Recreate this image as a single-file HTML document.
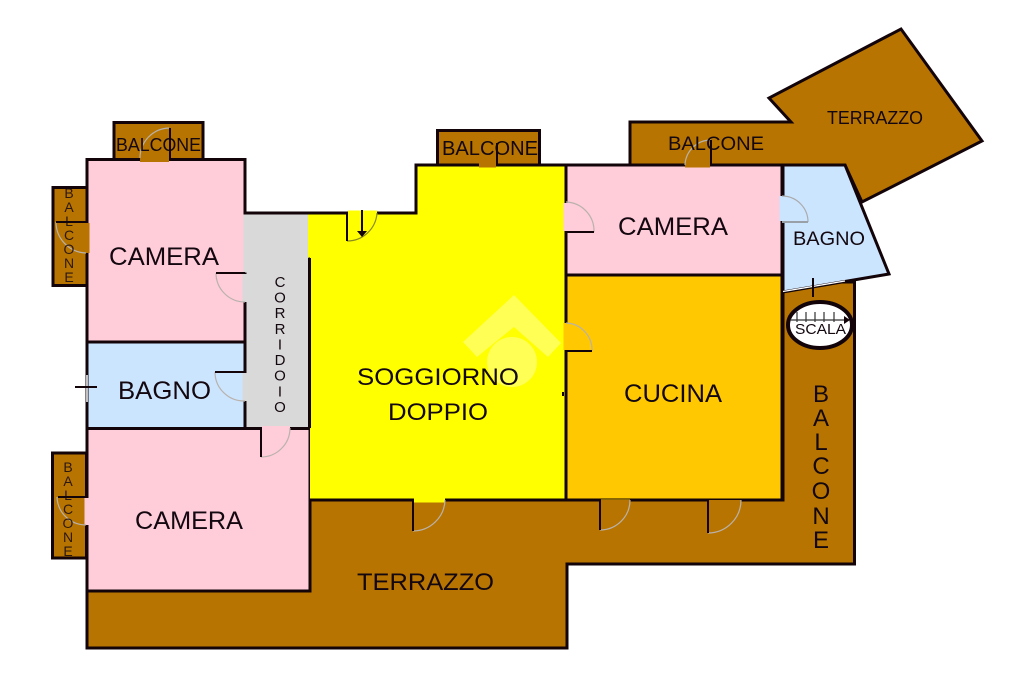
<!DOCTYPE html>
<html><head><meta charset="utf-8"><style>
html,body{margin:0;padding:0;background:#fff;width:1024px;height:683px;overflow:hidden}
svg{display:block}
text{font-family:"Liberation Sans",sans-serif;fill:#140810}
.w{stroke:#120409;stroke-width:3;stroke-linejoin:miter}
.l{stroke:#120409;stroke-width:2;fill:none}
.a{fill:none;stroke:#b9b2ac;stroke-width:1.2}
.g{stroke-width:5;fill:none}
</style></head><body>
<svg width="1024" height="683" viewBox="0 0 1024 683" xmlns="http://www.w3.org/2000/svg">
<!-- terraces and balconies -->
<g fill="#b87400" class="w">
<rect x="114" y="122.500" width="89" height="37"/>
<rect x="53" y="187.500" width="34" height="98"/>
<rect x="52.500" y="453" width="34" height="105"/>
<rect x="437.500" y="130.500" width="102" height="35"/>
<polygon points="630,122 791,122 769,98 901,29 982,141 862,202 845,165 630,165"/>
<polygon points="783,282 854.500,282 854.500,564 567,564 567,648 87,648 87,500 783,500"/>
</g>
<!-- rooms -->
<polygon points="87,159.500 245,159.500 245,342 87,342" fill="#ffccd9" class="w"/>
<polygon points="87,342 245,342 245,428.500 87,428.500" fill="#cce5ff" class="w"/>
<polygon points="87,428.500 310,428.500 310,591 87,591" fill="#ffccd9" class="w"/>
<polygon points="245,213 310,213 310,428.500 245,428.500" fill="#d9d9d9" class="w"/>
<polygon points="310,213 416,213 416,165 566,165 566,500 310,500" fill="#ffff00"/>
<path d="M310,213H416V165H566V500H310" class="w" fill="none"/>
<path d="M309.500,258V428" class="w" fill="none"/>
<rect x="566" y="165" width="216" height="110" fill="#ffccd9" class="w"/>
<rect x="566" y="275" width="216" height="225" fill="#ffc800" class="w"/>
<polygon points="783,165 845,165 889,274 783,292" fill="#cce5ff" class="w"/>
<rect x="308" y="214.500" width="3" height="43" fill="#ffff00"/>
<rect x="243.500" y="214.500" width="3.500" height="58" fill="#d9d9d9"/>
<!-- watermark -->
<g fill="#ffff55">
<polygon points="514,295 561,343 548,357 514,327 477,357 463,342"/>
<circle cx="512" cy="362" r="25"/>
</g>
<!-- door gaps -->
<path d="M140,159.500H169" stroke="#b87400" class="g"/>
<path d="M87,223V253" stroke="#b87400" class="g"/>
<path d="M245,274V302" stroke="#d9d9d9" class="g"/>
<path d="M245,373V401" stroke="#d9d9d9" class="g"/>
<path d="M262,428.500H290" stroke="#ffccd9" class="g"/>
<path d="M87,498V525" stroke="#ffccd9" class="g"/>
<path d="M348,213H377" stroke="#ffff00" class="g"/>
<path d="M479,165H496" stroke="#b87400" class="g"/>
<path d="M566,203V231" stroke="#ffccd9" class="g"/>
<path d="M566,323V350" stroke="#ffc800" class="g"/>
<path d="M685,165H710" stroke="#b87400" class="g"/>
<path d="M782,196V221" stroke="#cce5ff" class="g"/>
<path d="M414,500H445" stroke="#ffff00" class="g"/>
<path d="M601,500H630" stroke="#ffc800" class="g" style="stroke-width:1"/>
<path d="M601,501.500H630" stroke="#b87400" class="g" style="stroke-width:3"/>
<path d="M709,501.500H741" stroke="#b87400" class="g" style="stroke-width:3"/>
<path d="M87,375V402" stroke="#fff" stroke-width="1.500"/>
<path d="M783,291.500L845,281" stroke="#fff" stroke-width="1.200"/>
<!-- door arcs -->
<path class="a" d="M140,158A30,30 0 0 1 169,128"/>
<path class="a" d="M56,222A31,31 0 0 0 86,253"/>
<path class="a" d="M216,273A29,29 0 0 0 245,302"/>
<path class="a" d="M215,372A29,29 0 0 0 245,401"/>
<path class="a" d="M261,457A29,29 0 0 0 290,428"/>
<path class="a" d="M57,497A29,29 0 0 0 86,525"/>
<path class="a" style="stroke:#8a8a20" d="M347,241A30,30 0 0 0 377,213"/>
<path class="a" d="M566,202A29,29 0 0 1 594,232"/>
<path class="a" d="M566,323A27,27 0 0 1 592,351"/>
<path class="a" d="M685,165A26,26 0 0 1 711,140"/>
<path class="a" style="stroke:#aaa" d="M782,196A26,26 0 0 1 808,222"/>
<path class="a" d="M413,531A32,32 0 0 0 445,500"/>
<path class="a" d="M600,530A30,30 0 0 0 630,500"/>
<path class="a" d="M708,533A33,33 0 0 0 741,500"/>
<!-- door leaves -->
<path class="l" d="M170,128V160"/>
<path class="l" d="M56,222H87"/>
<path class="l" d="M216,273H245"/>
<path class="l" d="M215,372H245"/>
<path class="l" d="M261,428V457"/>
<path class="l" d="M58,497H87"/>
<path class="l" d="M347,213V241"/>
<path class="l" d="M497,143V165"/>
<path class="l" d="M566,232H594"/>
<path class="l" d="M566,351H592"/>
<path class="l" d="M711,140V165"/>
<path stroke="#99a0a8" stroke-width="2" d="M782,222H808"/>
<path class="l" d="M413,500V531"/>
<path class="l" d="M600,500V530"/>
<path class="l" d="M708,500V533"/>
<path class="l" d="M75,387H97"/>
<path class="l" d="M813,278V297"/>
<path class="l" d="M563,392V396"/>
<!-- arrow -->
<path class="l" d="M362,210V232"/>
<polygon points="357,231 367,231 362,237" fill="#120409"/>
<!-- stairs -->
<ellipse cx="820" cy="325" rx="32" ry="23" fill="#fff" stroke="#120409" stroke-width="4"/>
<path d="M790,320H847M797,312V322M806,312V322M815,312V322M824,312V322M834,312V322" stroke="#333" stroke-width="1.200" fill="none"/>
<polygon points="844,316 850,320 844,324" fill="#120409"/>
<!-- labels -->
<text x="109" y="265" font-size="25" textLength="110" lengthAdjust="spacingAndGlyphs">CAMERA</text>
<text x="118" y="399" font-size="25" textLength="93" lengthAdjust="spacingAndGlyphs">BAGNO</text>
<text x="135" y="529" font-size="25" textLength="108" lengthAdjust="spacingAndGlyphs">CAMERA</text>
<text x="357" y="385" font-size="24" textLength="162" lengthAdjust="spacingAndGlyphs">SOGGIORNO</text>
<text x="388" y="420" font-size="24" textLength="100" lengthAdjust="spacingAndGlyphs">DOPPIO</text>
<text x="624" y="402" font-size="25" textLength="98" lengthAdjust="spacingAndGlyphs">CUCINA</text>
<text x="618" y="235" font-size="25" textLength="110" lengthAdjust="spacingAndGlyphs">CAMERA</text>
<text x="793" y="245" font-size="19" textLength="72" lengthAdjust="spacingAndGlyphs">BAGNO</text>
<text x="827" y="124" font-size="18" textLength="96" lengthAdjust="spacingAndGlyphs">TERRAZZO</text>
<text x="668" y="150" font-size="19" textLength="96" lengthAdjust="spacingAndGlyphs">BALCONE</text>
<text x="116" y="151" font-size="18" textLength="85" lengthAdjust="spacingAndGlyphs">BALCONE</text>
<text x="442" y="155" font-size="20" textLength="96" lengthAdjust="spacingAndGlyphs">BALCONE</text>
<text x="357" y="590" font-size="24" textLength="137" lengthAdjust="spacingAndGlyphs">TERRAZZO</text>
<text x="795" y="334" font-size="15" textLength="51" lengthAdjust="spacingAndGlyphs">SCALA</text>
<g font-size="14" text-anchor="middle" fill-opacity=".85">
<text x="69" y="198">B</text><text x="69" y="212">A</text><text x="69" y="226">L</text><text x="69" y="240">C</text><text x="69" y="254">O</text><text x="69" y="268">N</text><text x="69" y="282">E</text>
<text x="68" y="472">B</text><text x="68" y="486">A</text><text x="68" y="500">L</text><text x="68" y="514">C</text><text x="68" y="528">O</text><text x="68" y="542">N</text><text x="68" y="556">E</text>
</g>
<g font-size="15" text-anchor="middle">
<text x="280" y="287">C</text><text x="280" y="302.600">O</text><text x="280" y="318.200">R</text><text x="280" y="333.800">R</text><text x="280" y="349.500">I</text><text x="280" y="365">D</text><text x="280" y="380.700">O</text><text x="280" y="396.300">I</text><text x="280" y="412">O</text>
</g>
<g font-size="24" text-anchor="middle">
<text x="821" y="402">B</text><text x="821" y="426">A</text><text x="821" y="450">L</text><text x="821" y="474">C</text><text x="821" y="499">O</text><text x="821" y="524">N</text><text x="821" y="548">E</text>
</g>
</svg>
</body></html>
